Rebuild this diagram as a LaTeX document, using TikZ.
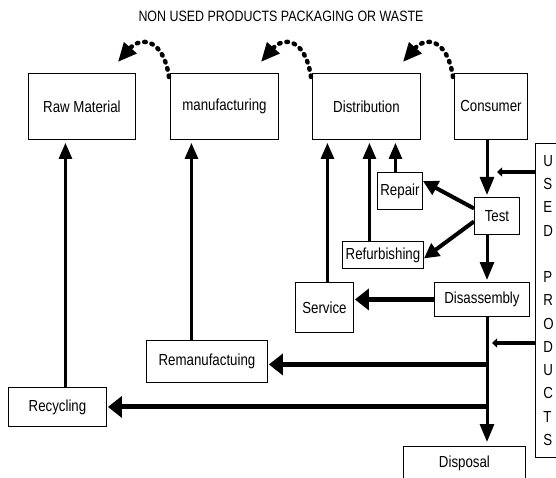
\documentclass[tikz,border=0pt]{standalone}
\usepackage{fontspec}
\setmainfont{Liberation Sans}[FakeStretch=0.83]
\usetikzlibrary{arrows.meta}

\tikzset{
	box/.style={draw, line width=0.9pt, anchor=north west, inner sep=1pt, font=\fontsize{16}{19}\selectfont},
	upflow/.style={line width=2.8pt, -{Triangle[length=16pt,width=13pt]}, shorten >=3pt},
	downflow/.style={line width=3pt, -{Triangle[length=18pt,width=14pt]}, shorten >=2pt},
	sideflow/.style={line width=5pt, -{Triangle[length=14pt,width=21pt]}, shorten >=1pt},
	testflow/.style={line width=4pt, -{Triangle[length=15pt,width=15pt]}},
	feed/.style={line width=3.5pt, -{Triangle[length=5pt,width=9pt]}},
	wastearc/.style={line width=4.5pt, dash pattern=on 1.5pt off 6pt, line cap=round, -{Triangle[length=19pt,width=16pt]}}
}

\begin{document}
\begin{tikzpicture}[x=1pt, y=-1pt]

\useasboundingbox (0,0) rectangle (556,478);

%Title
\node[font=\fontsize{15}{18}\selectfont] (title) at (281,16) {NON USED PRODUCTS PACKAGING OR WASTE};

%Life cycle boxes
\node[box, minimum width=107pt, minimum height=66pt] (raw) at (28,73) {Raw Material};
\node[box, minimum width=108pt, minimum height=66pt] (manu) at (170,73) {manufacturing};
\node[box, minimum width=108pt, minimum height=66pt] (dist) at (312,73) {Distribution};
\node[box, minimum width=73pt, minimum height=66pt] (cons) at (454,73) {Consumer};

%Recovery boxes
\node[box, minimum width=45pt, minimum height=37pt] (repair) at (377,172) {Repair};
\node[box, minimum width=45pt, minimum height=37pt] (test) at (474,197) {Test};
\node[box, minimum width=81pt, minimum height=27pt] (refurb) at (342,241) {Refurbishing};
\node[box, minimum width=58pt, minimum height=50pt] (service) at (295,282) {Service};
\node[box, minimum width=95pt, minimum height=34pt] (disasm) at (434,282) {Disassembly};
\node[box, minimum width=121pt, minimum height=42pt] (reman) at (146,340) {Remanufactuing};
\node[box, minimum width=98pt, minimum height=39pt] (recyc) at (8,387) {Recycling};
\node[box, minimum width=122pt, minimum height=34pt] (disp) at (403,446) {Disposal};

%Used products
\node[box, minimum width=34pt, minimum height=314pt, inner xsep=8pt, text width=19pt, align=left,
	font=\fontsize{16}{23.25}\selectfont] (used) at (535,143)
	{U\\S\\E\\D\\[23.25pt]P\\R\\O\\D\\U\\C\\T\\S};

%Waste arcs
\foreach \from/\to in {manu/raw, dist/manu, cons/dist}
{
	\draw[wastearc] ([shift={(-1,4)}]\from.north west) .. controls +(-6,-40) and +(22,-25) .. ([shift={(-18,-11)}]\to.north east);
}

%Back to the chain
\draw[upflow] ([xshift=8pt]recyc.north) -- ([xshift=8pt]recyc.north |- raw.south);
\draw[upflow] ([xshift=-15.5pt]reman.north) -- ([xshift=-15.5pt]reman.north |- manu.south);
\draw[upflow] ([xshift=3pt]service.north) -- ([xshift=3pt]service.north |- dist.south);
\draw[upflow] ([xshift=-13.5pt]refurb.north) -- ([xshift=-13.5pt]refurb.north |- dist.south);
\draw[upflow] ([xshift=-4.5pt]repair.north) -- ([xshift=-4.5pt]repair.north |- dist.south);

%Main spine
\coordinate (spine) at (487,0);
\draw[downflow] (cons.south -| spine) -- (test.north -| spine);
\draw[downflow] (test.south -| spine) -- (disasm.north -| spine);
\draw[downflow, shorten >=4pt] (disasm.south -| spine) -- (disp.north -| spine);

%Test outputs
\draw[testflow] ([yshift=7.5pt]test.west) -- ([yshift=10pt]repair.east);
\draw[testflow] ([yshift=-5.5pt]test.west) -- ([yshift=-3.5pt]refurb.east);

%Disassembly outputs
\draw[sideflow] (disasm.west) -- (service.east |- disasm.west);
\draw[sideflow] ([yshift=-3pt]reman.east -| spine) -- ([yshift=-3pt]reman.east);
\draw[sideflow] (recyc.east -| spine) -- (recyc.east);

%Used products in
\coordinate (feedA) at (497,172);
\coordinate (feedB) at (492,343);
\draw[feed] (used.west |- feedA) -- (feedA);
\draw[feed] (used.west |- feedB) -- (feedB);

\end{tikzpicture}
\end{document}
